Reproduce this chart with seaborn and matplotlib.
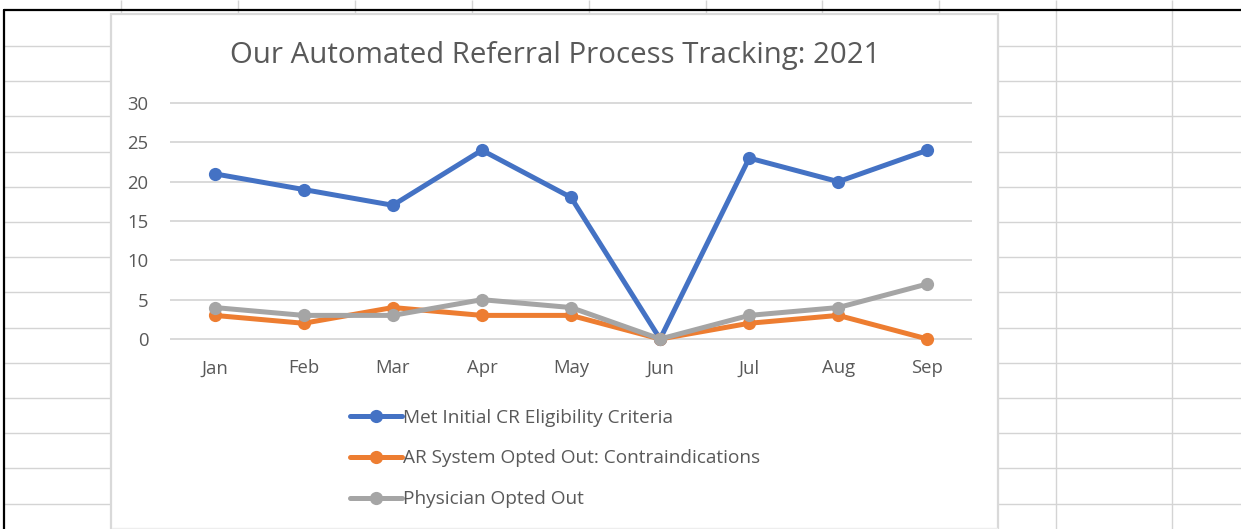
import matplotlib
matplotlib.use("Agg")
import matplotlib.pyplot as plt
from matplotlib.lines import Line2D
from matplotlib.patches import Rectangle
import seaborn as sns
import pandas as pd

months = ["Jan", "Feb", "Mar", "Apr", "May", "Jun", "Jul", "Aug", "Sep"]
met_criteria = [21, 19, 17, 24, 18, 0, 23, 20, 24]
ar_opted_out = [3, 2, 4, 3, 3, 0, 2, 3, 0]
physician_opted_out = [4, 3, 3, 5, 4, 0, 3, 4, 7]
series_names = ["Met Initial CR Eligibility Criteria",
                "AR System Opted Out: Contraindications",
                "Physician Opted Out"]
colors = ["#4472C4", "#ED7D31", "#A5A5A5"]
title = "Our Automated Referral Process Tracking: 2021"

sns.set_theme(style="white")
plt.rcParams['font.family'] = ['Open Sans', 'DejaVu Sans']

W, H = 1241, 529
DPI = 100
fig = plt.figure(figsize=(W / DPI, H / DPI), dpi=DPI)
fig.patch.set_facecolor("white")

# background spreadsheet overlay (pixel coordinates)
bg = fig.add_axes([0, 0, 1, 1], zorder=0)
bg.set_xlim(0, W)
bg.set_ylim(H, 0)
bg.axis("off")
gridc = "#d4d4d4"
cols = [121, 238, 355, 472, 589, 706, 822, 939, 1056, 1172]
for x in cols:
    bg.plot([x, x], [0, H], color=gridc, lw=1.0, solid_capstyle="butt")
y = 46.0
while y < H:
    bg.plot([4, W], [y, y], color=gridc, lw=1.0)
    y += 35.2
bg.plot([4, W], [10, 10], color="black", lw=1.6)
bg.plot([4, 4], [10, H], color="black", lw=1.6)
# chart area box
bg.add_patch(Rectangle((111, 14), 998 - 111, 540 - 14, facecolor="white",
                       edgecolor="#d9d9d9", lw=1.6, zorder=5))
bg.plot([112, 997], [528, 528], color="#eeeeee", lw=1.0, zorder=6)

# main plot axes
x_left, x_right = 170, 972
ymin, ymax = -1, 31
px_per_unit = (339 - 103) / 30.0
top_px = 339 - ymax * px_per_unit
bot_px = 339 - ymin * px_per_unit
ax = fig.add_axes([x_left / W, (H - bot_px) / H, (x_right - x_left) / W,
                   (bot_px - top_px) / H], zorder=2)
ax.patch.set_alpha(0)

df = pd.DataFrame({
    "Month": months * 3,
    "Value": met_criteria + ar_opted_out + physician_opted_out,
    "Series": [series_names[0]] * 9 + [series_names[1]] * 9 + [series_names[2]] * 9,
})
df["x"] = list(range(9)) * 3

sns.lineplot(data=df, x="x", y="Value", hue="Series", palette=colors,
             hue_order=series_names, marker="o", markersize=9.5, linewidth=3.6,
             markeredgewidth=0, ax=ax, legend=False, sort=False)
for ln in ax.lines:
    ln.set_clip_on(False)

ax.set_xlim(-0.5, 8.5)
ax.set_ylim(ymin, ymax)
ax.set_yticks([0, 5, 10, 15, 20, 25, 30])
ax.set_xticks(range(9))
ax.set_xticklabels(months)
ax.set_xlabel("")
ax.set_ylabel("")
for s in ax.spines.values():
    s.set_visible(False)
for v in [0, 5, 10, 15, 20, 25, 30]:
    ax.axhline(v, color="#d9d9d9", lw=1.4, zorder=0)
ax.tick_params(axis="both", length=0, colors="#595959", labelsize=13.3)
ax.tick_params(axis="y", pad=15.5)
ax.tick_params(axis="x", pad=9)

fig.text(555 / W, 1 - 55 / H, title, ha="center", va="center",
         fontsize=21.2, color="#595959")

handles = [Line2D([0], [0], color=c, lw=3.6, marker="o", markersize=9.5,
                  markeredgewidth=0) for c in colors]
leg = fig.legend(handles, series_names, loc="upper left",
                 bbox_to_anchor=(333 / W, 1 - 391.5 / H), frameon=False,
                 fontsize=13.7, labelcolor="#595959", handlelength=2.75,
                 handletextpad=0.05, labelspacing=1.2)
leg.set_zorder(3)

fig.savefig("out.png", dpi=DPI, facecolor="white")
